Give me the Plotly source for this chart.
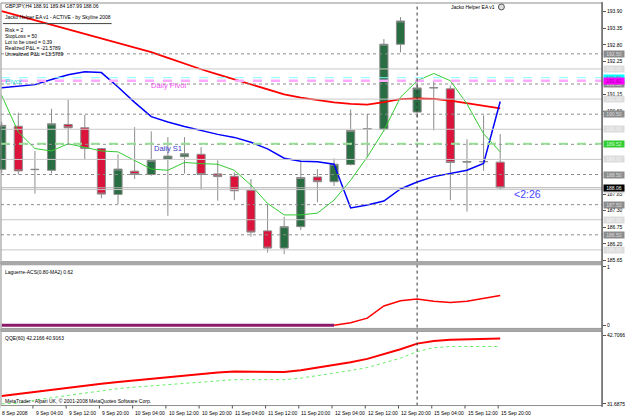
import plotly.graph_objects as go

W, H = 625, 417

# ---------------- data ----------------
bars = list(range(31))
opens  = [188.67,190.10,188.66,188.64,190.16,190.05,189.36,187.84,188.61,188.50,189.01,189.09,189.17,188.52,188.44,187.98,
          186.63,186.06,186.77,188.42,188.26,188.83,190.01,190.00,192.82,190.57,191.37,191.34,188.91,188.92,188.91]
highs  = [190.25,190.55,189.28,190.68,190.98,190.48,189.38,189.17,190.07,189.93,189.74,189.74,189.41,188.97,188.57,188.35,
          187.52,187.10,188.95,188.68,189.03,190.66,190.51,192.99,193.72,191.70,191.61,191.45,189.67,190.46,189.84]
lows   = [188.55,188.50,187.87,188.53,189.52,189.00,187.71,187.52,188.35,188.46,187.13,188.53,188.02,187.63,187.65,186.44,
          185.91,185.86,186.66,187.58,188.12,188.80,189.08,189.93,192.55,190.40,189.96,187.65,187.27,188.62,187.99]
closes = [190.13,188.62,188.67,190.18,190.05,189.36,187.85,188.68,188.50,188.97,189.11,189.19,188.50,188.43,187.96,186.59,
          186.06,186.77,188.40,188.26,188.84,189.96,190.02,192.82,193.59,191.37,191.38,188.90,188.93,188.93,188.06]

ma_red   = [193.92,193.77,193.62,193.46,193.31,193.16,193.01,192.86,192.71,192.56,192.37,192.17,191.99,191.82,191.65,191.49,
            191.32,191.16,191.05,190.97,190.89,190.84,190.82,190.90,191.00,191.02,191.01,190.95,190.87,190.79,190.69]
ma_blue  = [191.38,191.43,191.48,191.65,191.81,191.91,191.88,191.40,190.89,190.42,190.24,190.09,189.95,189.83,189.73,189.57,
            189.35,189.04,188.94,188.92,188.84,187.39,187.49,187.62,188.02,188.25,188.43,188.54,188.64,188.87,190.92]
ma_green = [191.12,189.91,189.36,189.28,189.52,189.39,189.28,189.25,188.97,188.68,188.64,188.90,188.86,188.84,188.64,188.15,
            187.54,187.16,187.16,187.22,187.65,188.31,189.08,189.96,191.06,191.61,191.85,191.61,190.84,189.85,189.25]

laguerre = [0]*21 + [0.04,0.12,0.33,0.42,0.45,0.41,0.39,0.41,0.46,0.51]

qqe_main   = [32.92,33.27,33.56,33.93,34.31,34.66,34.92,35.20,35.45,35.75,36.00,36.30,36.52,36.72,36.87,36.87,
              36.83,36.79,37.09,37.51,37.93,38.39,38.92,39.66,40.47,41.38,41.81,41.99,42.08,42.16,42.2166]
qqe_signal = [31.6875,31.78,32.28,32.70,33.03,33.40,33.78,34.13,34.37,34.57,34.79,35.07,35.25,35.42,35.57,35.57,
              35.57,35.57,35.82,36.21,36.61,37.04,37.53,38.27,39.03,40.10,40.72,40.91,40.91,40.91,40.9163]

tick_bars = [0,2,4,6,8,10,12,14,16,18,20,22,24,26,28,30]
tick_labels = ["8 Sep 2008","9 Sep 04:00","9 Sep 12:00","9 Sep 20:00","10 Sep 04:00","10 Sep 12:00",
               "10 Sep 20:00","11 Sep 04:00","11 Sep 12:00","11 Sep 20:00","12 Sep 04:00","12 Sep 12:00",
               "12 Sep 20:00","15 Sep 04:00","15 Sep 12:00","15 Sep 20:00"]

# visible price scale labels (others are hidden under the level tags)
price_ticks = [193.90,193.35,192.80,192.25,191.15,190.60,187.85,187.30,186.75,186.20,185.65]
round_levels = [192.0,191.0,190.0,189.0,188.0,187.0,186.0]
half_levels = [192.5,191.5,190.5,189.5,188.5,187.5,186.5]
weekly_pivot = 191.71
daily_pivot = 191.61
daily_s1 = 189.52
bid = 188.06
separator_bar = 25

lag_ticks = [0, 1]
qqe_ticks = [31.6875, 42.7066]

header_lines = ["Risk = 2", "StopLoss = 50", "Lot to be used = 0.39",
                "Realized P&L = -21.5789", "Unrealized P&L = 13.5789"]

# ---------------- helpers ----------------
def px(x):
    return x / W

def py(y):
    return 1 - y / H

FONT = "Liberation Sans"
XR = 604
fig = go.Figure()

# candles (wicks, outlines, bodies)
fig.add_trace(go.Candlestick(
    x=bars, open=opens, high=highs, low=lows, close=closes,
    increasing=dict(line=dict(color="#8c8c8c", width=1), fillcolor="#296d42"),
    decreasing=dict(line=dict(color="#8c8c8c", width=1), fillcolor="#dc143c"),
    whiskerwidth=0, xaxis="x", yaxis="y", hoverinfo="skip", showlegend=False))

fig.add_trace(go.Scatter(x=bars, y=ma_red, mode="lines", line=dict(color="#ff0000", width=1.8),
                         xaxis="x", yaxis="y", showlegend=False, hoverinfo="skip"))
fig.add_trace(go.Scatter(x=bars, y=ma_blue, mode="lines", line=dict(color="#0000ff", width=1.5),
                         xaxis="x", yaxis="y", showlegend=False, hoverinfo="skip"))
fig.add_trace(go.Scatter(x=bars, y=ma_green, mode="lines", line=dict(color="#33cc33", width=1),
                         xaxis="x", yaxis="y", showlegend=False, hoverinfo="skip"))

# Laguerre
fig.add_trace(go.Scatter(x=bars[20:], y=laguerre[20:], mode="lines", line=dict(color="#ff0000", width=1.5),
                         xaxis="x", yaxis="y2", showlegend=False, hoverinfo="skip"))
fig.add_trace(go.Scatter(x=bars[:21], y=laguerre[:21], mode="lines", line=dict(color="#8b1a6b", width=3),
                         xaxis="x", yaxis="y2", showlegend=False, hoverinfo="skip"))

# QQE
fig.add_trace(go.Scatter(x=bars, y=qqe_signal, mode="lines", line=dict(color="#66ee66", width=1, dash="dot"),
                         xaxis="x", yaxis="y3", showlegend=False, hoverinfo="skip"))
fig.add_trace(go.Scatter(x=bars, y=qqe_main, mode="lines", line=dict(color="#ff0000", width=2),
                         xaxis="x", yaxis="y3", showlegend=False, hoverinfo="skip"))

shapes = []
for lv in round_levels:
    shapes.append(dict(type="line", xref="paper", yref="y", x0=px(1), x1=px(XR), y0=lv, y1=lv,
                       line=dict(color="#c8c8c8", width=1), layer="above"))
for lv in half_levels:
    shapes.append(dict(type="line", xref="paper", yref="y", x0=px(1), x1=px(XR), y0=lv, y1=lv,
                       line=dict(color="#8c8c8c", width=1, dash="dot"), layer="above"))
shapes.append(dict(type="line", xref="paper", yref="y", x0=px(1), x1=px(XR), y0=daily_s1, y1=daily_s1,
                   line=dict(color="#99dd99", width=2, dash="dash"), layer="above"))
shapes.append(dict(type="line", xref="paper", yref="y", x0=px(1), x1=px(XR), y0=weekly_pivot, y1=weekly_pivot,
                   line=dict(color="#7fffff", width=1, dash="dash"), layer="above"))
shapes.append(dict(type="line", xref="paper", yref="y", x0=px(1), x1=px(XR), y0=daily_pivot, y1=daily_pivot,
                   line=dict(color="#ffaaff", width=2.5, dash="dash"), layer="above"))
shapes.append(dict(type="line", xref="paper", yref="y", x0=px(1), x1=px(XR), y0=bid, y1=bid,
                   line=dict(color="#b0b0b0", width=1), layer="above"))
shapes.append(dict(type="line", xref="x", yref="paper", x0=separator_bar, x1=separator_bar,
                   y0=py(406.5), y1=py(2), line=dict(color="#333333", width=1, dash="dot"), layer="above"))
for (t, b) in [(2, 262), (265, 329), (332, 406.5)]:
    shapes.append(dict(type="rect", xref="paper", yref="paper", x0=px(1), x1=px(XR), y0=py(b), y1=py(t),
                       line=dict(color="#8c8c8c", width=1), layer="above"))
for (t, b) in [(262, 265), (329, 332)]:
    shapes.append(dict(type="rect", xref="paper", yref="paper", x0=px(0), x1=px(XR), y0=py(b), y1=py(t),
                       line=dict(width=0), fillcolor="#a8a8a8", layer="above"))
shapes.append(dict(type="line", xref="paper", yref="paper", x0=px(XR), x1=px(XR), y0=py(408), y1=py(1),
                   line=dict(color="#555555", width=1.2), layer="above"))
shapes.append(dict(type="line", xref="paper", yref="paper", x0=px(3), x1=px(112), y0=py(22.7), y1=py(22.7),
                   line=dict(color="#444444", width=1), layer="above"))
shapes.append(dict(type="circle", xref="paper", yref="paper", x0=px(500), x1=px(506), y0=py(9), y1=py(3),
                   line=dict(color="#555555", width=1), fillcolor="#dddddd", layer="above"))
for b in tick_bars:
    shapes.append(dict(type="line", xref="x", yref="paper", x0=b - 0.12, x1=b - 0.12, y0=py(406.5), y1=py(409.5),
                       line=dict(color="#555555", width=1)))

ann = []
def text(x, y, s, size=5, color="#000000", anchor="left"):
    ann.append(dict(x=px(x), y=py(y), xref="paper", yref="paper", text=s, showarrow=False,
                    xanchor=anchor, yanchor="middle", font=dict(family=FONT, size=size, color=color)))

text(3, 5.5, "GBPJPY,H4 %.2f %.2f %.2f %.2f" % (opens[-1], highs[-1], lows[-1], closes[-1]))
text(3, 16, "Jacko Helper EA v1 - ACTIVE - by Skyline 2008")
for k, s in enumerate(header_lines):
    text(3, 29.5 + 6 * k, s)
text(499, 6, "Jacko Helper EA v1", anchor="right")
text(25, 80.5, "Pivot", size=7.5, color="#33dddd", anchor="right")
text(149, 84.5, "Daily Pivot", size=7.5, color="#ee55ee")
text(152, 148, "Daily S1", size=7.5, color="#3a3acc")
text(514, 193.5, "<2:26", size=10.5, color="#4646ff")
text(3, 272, "Laguerre-ACS(0.80-MA2) %.2f" % 0.62)
text(3, 338.5, "QQE(60) %.4f %.4f" % (qqe_main[-1], qqe_signal[-1]))
text(3, 401.5, "MetaTrader - Alpari UK, © 2001-2008 MetaQuotes Software Corp.")

for b, s in zip(tick_bars, tick_labels):
    ann.append(dict(x=b - 0.08, y=py(413.5), xref="x", yref="paper", text=s, showarrow=False,
                    xanchor="left", yanchor="middle", font=dict(family=FONT, size=5, color="#000000")))

def tag(v, s, bg, fg):
    ann.append(dict(x=px(XR + 0.5), y=v, xref="paper", yref="y", text=s, showarrow=False,
                    xanchor="left", yanchor="middle", bgcolor=bg, width=20, height=6, borderpad=0,
                    font=dict(family=FONT, size=5, color=fg)))

for lv in round_levels:
    tag(lv, "%.2f" % lv, "#dcdcdc", "#f4f4f4")
for lv in half_levels:
    if lv != 189.5:
        tag(lv, "%.2f" % lv, "#8c8c8c", "#dddddd")
tag(weekly_pivot, "%.2f" % weekly_pivot, "#00ffff", "#808080")
tag(daily_pivot, "%.2f" % daily_pivot, "#ff00ff", "#a000a0")
tag(daily_s1, "%.2f" % daily_s1, "#33cc33", "#ccffcc")
tag(bid, "%.2f" % bid, "#000000", "#ffffff")

axfont = dict(family=FONT, size=5, color="#000000")
fig.update_layout(
    width=W, height=H, margin=dict(l=0, r=0, t=0, b=0),
    paper_bgcolor="white", plot_bgcolor="white", showlegend=False,
    xaxis=dict(domain=[0, px(XR)], range=[-0.102, 36.13], visible=False, rangeslider=dict(visible=False),
               fixedrange=True),
    yaxis=dict(domain=[py(262), py(2)], range=[185.607, 194.187], side="right", anchor="x",
               tickvals=price_ticks, ticktext=["%.2f" % v for v in price_ticks], ticks="outside", ticklen=3,
               tickcolor="#555555", tickfont=axfont, showgrid=False, zeroline=False, showline=False),
    yaxis2=dict(domain=[py(329), py(265)], range=[-0.0565, 1.039], side="right", anchor="x",
                tickvals=lag_ticks, ticktext=["0", "1"], ticks="outside", ticklen=3, tickcolor="#555555",
                tickfont=axfont, showgrid=False, zeroline=False, showline=False),
    yaxis3=dict(domain=[py(406.5), py(332)], range=[31.399, 43.348], side="right", anchor="x",
                tickvals=qqe_ticks, ticktext=["%.4f" % v for v in qqe_ticks], ticks="outside", ticklen=3,
                tickcolor="#555555", tickfont=axfont, showgrid=False, zeroline=False, showline=False),
    shapes=shapes, annotations=ann,
)

fig.write_html("out.html")
